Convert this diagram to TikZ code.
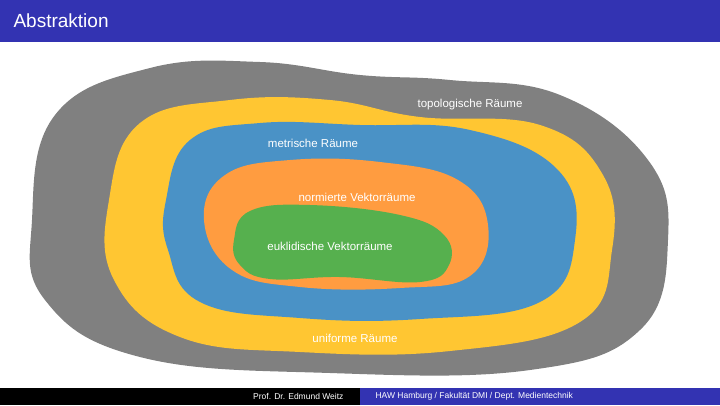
\documentclass[tikz,border=0pt]{standalone}
\usepackage{fontspec}
\setmainfont{Liberation Sans}
\definecolor{hdr}{HTML}{3333B2}
\definecolor{cgray}{HTML}{808080}
\definecolor{cyel}{HTML}{FFC632}
\definecolor{cblue}{HTML}{4A92C6}
\definecolor{corange}{HTML}{FF9C40}
\definecolor{cgreen}{HTML}{56B04E}
\begin{document}
\begin{tikzpicture}[x=1pt,y=-1pt,lbl/.style={text=white,font=\fontsize{11.5}{13}\selectfont}]
\useasboundingbox (0,0) rectangle (720,405);
\fill[white] (0,0) rectangle (720,405);
\fill[hdr] (0,0) rectangle (720,42);
\node[anchor=west,text=white,font=\fontsize{19}{22}\selectfont] (title) at (10,21) {Abstraktion};
\fill[cgray] plot[smooth cycle,tension=0.7] coordinates {(32,220) (55,115) (150,68) (260,62) (360,75) (450,80) (560,95) (648,160) (668,240) (640,330) (530,370) (330,373) (140,357) (45,300)};
\fill[cyel] plot[smooth cycle,tension=0.7] coordinates {(109,200) (140,123) (230,100) (330,100) (420,117) (540,125) (603,175) (612,250) (580,322) (450,351) (300,352) (180,337) (114,280)};
\fill[cblue] plot[smooth cycle,tension=0.7] coordinates {(166,200) (190,140) (260,123) (360,125) (470,130) (558,170) (575,240) (540,302) (420,319) (300,318) (200,302) (168,250)};
\fill[corange] plot[smooth cycle,tension=0.7] coordinates {(204,220) (225,175) (290,160) (380,162) (458,180) (488,225) (470,276) (400,288) (300,287) (232,270)};
\fill[cgreen] plot[smooth cycle,tension=0.7] coordinates {(234,240) (250,211) (310,205) (400,215) (444,235) (449,265) (420,282) (340,277) (270,279) (240,265)};
\node[lbl] (t1) at (470,105) {topologische Räume};
\node[lbl] (t2) at (313,143) {metrische Räume};
\node[lbl] (t3) at (357,197) {normierte Vektorräume};
\node[lbl] (t4) at (330,246) {euklidische Vektorräume};
\node[lbl] (t5) at (355,338) {uniforme Räume};
\fill[black] (0,388) rectangle (360,405);
\fill[hdr] (360,388) rectangle (720,405);
\node[text=white,font=\fontsize{8.5}{10}\selectfont,anchor=east] (f1) at (347,396.5) {Prof. Dr. Edmund Weitz};
\node[text=white,font=\fontsize{8.5}{10}\selectfont,anchor=west] (f2) at (372,396.5) {HAW Hamburg / Fakultät DMI / Dept. Medientechnik};
\end{tikzpicture}
\end{document}
